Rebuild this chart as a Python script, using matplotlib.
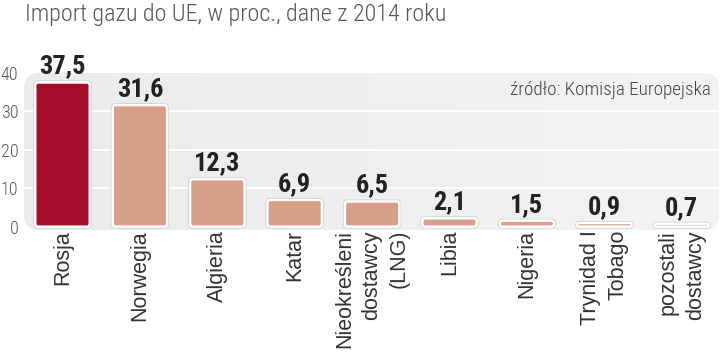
import matplotlib
matplotlib.use("Agg")
import matplotlib.pyplot as plt
import numpy as np
from matplotlib.patches import FancyBboxPatch
from matplotlib import patheffects as pe

categories = ["Rosja", "Norwegia", "Algieria", "Katar",
              "Nieokreśleni\ndostawcy\n(LNG)", "Libia", "Nigeria",
              "Trynidad I\nTobago", "pozostali\ndostawcy"]
values = [37.5, 31.6, 12.3, 6.9, 6.5, 2.1, 1.5, 0.9, 0.7]
value_labels = ["37,5", "31,6", "12,3", "6,9", "6,5", "2,1", "1,5", "0,9", "0,7"]
yticks = [0, 10, 20, 30, 40]
title = "Import gazu do UE, w proc., dane z 2014 roku"
source = "źródło: Komisja Europejska"

COND = ["Roboto Condensed", "DejaVu Sans"]
SANS = ["Liberation Sans", "DejaVu Sans"]

W, H = 720, 356
fig = plt.figure(figsize=(W / 100, H / 100), dpi=100)
fig.patch.set_facecolor("white")

# background panel (pixel coords)
bg = fig.add_axes([0, 0, 1, 1])
bg.set_xlim(0, W)
bg.set_ylim(0, H)
bg.axis("off")
px0, px1 = 24, 719
py_top, py_bot = 73, 230
panel = FancyBboxPatch((px0, H - py_bot), px1 - px0, py_bot - py_top,
                       boxstyle="round,pad=0,rounding_size=16",
                       facecolor="#efefef", edgecolor="none")
bg.add_patch(panel)
grad = np.linspace(0, 1, 256).reshape(1, -1)
im = bg.imshow(grad, extent=(px0, px1, H - py_bot, H - py_top),
               cmap=matplotlib.colors.LinearSegmentedColormap.from_list(
                   "g", ["#ebebeb", "#f3f3f3"]), aspect="auto", zorder=1)
im.set_clip_path(panel)

# main axes
ax = fig.add_axes([px0 / W, 1 - py_bot / H, (px1 - px0) / W, (py_bot - py_top) / H])
ax.patch.set_alpha(0)
x = np.arange(len(values))
ax.set_xlim((px0 - 62.5) / 77.4, (px1 - 62.5) / 77.4)
ax.set_ylim((226.5 - py_bot) / 3.85, (226.5 - py_top) / 3.85)
for s in ax.spines.values():
    s.set_visible(False)

for g in [10, 20, 30]:
    ax.axhline(g, color="white", lw=1.4, zorder=1)

colors = ["#a30d2b"] + ["#d9a089"] * (len(values) - 1)
bars = ax.bar(x, values, width=0.70, color=colors)
aspect = 77.4 / 3.85
for rect, c in zip(bars.patches, colors):
    bx, by, bw, bh = rect.get_x(), rect.get_y(), rect.get_width(), rect.get_height()
    rect.remove()
    r = min(0.035, bh / aspect / 2.0)
    p = FancyBboxPatch((bx, by), bw, bh,
                       boxstyle=f"round,pad=0,rounding_size={r}",
                       mutation_aspect=aspect,
                       facecolor=c, edgecolor="white", lw=1.6, zorder=3)
    p.set_path_effects([pe.withStroke(linewidth=3.0, foreground="#d2d2d2"), pe.Normal()])
    ax.add_patch(p)

for xi, v, lab in zip(x, values, value_labels):
    ax.annotate(lab, (xi, v), xytext=(0, 6.5), textcoords="offset points",
                ha="center", va="baseline", fontsize=19, fontweight="bold",
                color="#222222", family=COND, annotation_clip=False, zorder=5)

ax.set_yticks(yticks)
ax.set_yticklabels([str(t) for t in yticks], family=COND, fontweight="light",
                   fontsize=13, color="#555555")
ax.set_xticks(x)
ax.set_xticklabels(categories, rotation=90, family=SANS, fontsize=15.5, color="#333333")
for t in ax.get_xticklabels():
    t.set_multialignment("right")
    t.set_linespacing(1.38)
ax.tick_params(axis="y", length=0, pad=4)
ax.tick_params(axis="x", length=0, pad=0)

ax.text(0.989, 0.86, source, transform=ax.transAxes, ha="right", va="baseline",
        fontsize=13.8, fontweight="light", color="#444444", family=COND)

fig.text(25 / W, 1 - 21 / H, title, ha="left", va="baseline", fontsize=17.4,
         fontweight="light", color="#555555", family=COND)

fig.savefig("out.png", dpi=100)
